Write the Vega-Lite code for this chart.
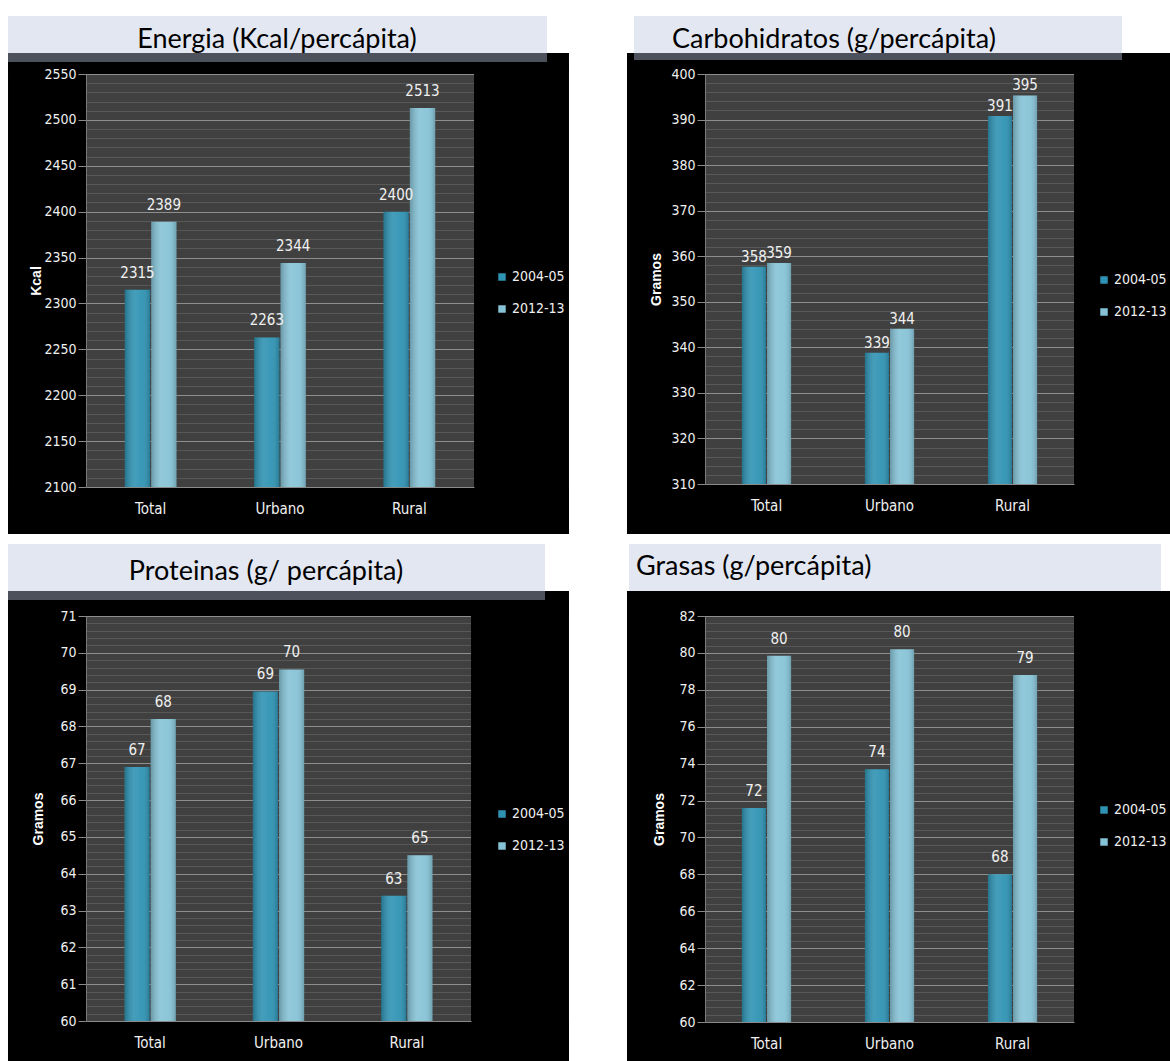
{
"$schema": "https://vega.github.io/schema/vega-lite/v6.json",
"background": "white",
"padding": {"left": 7, "top": 15, "right": 0, "bottom": 0},
"config": {"view": {"stroke": null}, "font": "DejaVu Sans Condensed, Liberation Sans Narrow, sans-serif"},
"columns": 2,
"align": "none",
"spacing": {"row": 8, "column": 56},
"resolve": {"scale": {"color": "independent", "x": "independent", "y": "independent", "xOffset": "independent"}, "legend": {"color": "independent"}},
"concat": [
{"width": 388, "height": 413, "view": {"fill": "#404040", "stroke": "#6e6e6e"},
 "data": {"values": [
  {"region": "Total", "year": "2004-05", "value": 2315, "label": "2315"},
  {"region": "Total", "year": "2012-13", "value": 2389, "label": "2389"},
  {"region": "Urbano", "year": "2004-05", "value": 2263, "label": "2263"},
  {"region": "Urbano", "year": "2012-13", "value": 2344, "label": "2344"},
  {"region": "Rural", "year": "2004-05", "value": 2400, "label": "2400"},
  {"region": "Rural", "year": "2012-13", "value": 2513, "label": "2513"}]},
 "resolve": {"scale": {"x": "independent", "y": "independent"}},
 "layer": [
  {"resolve": {"axis": {"y": "independent"}}, "layer": [
   {"mark": {"type": "bar", "clip": true},
    "encoding": {
     "x": {"field": "region", "type": "nominal", "sort": ["Total", "Urbano", "Rural"], "scale": {"paddingInner": 0.6, "paddingOuter": 0.3},
       "axis": {"title": null, "labelAngle": 0, "labelColor": "#f0f0f0", "labelFontSize": 15, "ticks": false, "labelPadding": 14, "domainColor": "#8a8a8a", "grid": false, "zindex": 1}},
     "xOffset": {"field": "year", "type": "nominal", "scale": {"paddingInner": 0.04}},
     "y": {"field": "value", "type": "quantitative", "scale": {"domain": [2100, 2550], "nice": false, "zero": false},
       "axis": {"orient": "left", "values": [2100, 2150, 2200, 2250, 2300, 2350, 2400, 2450, 2500, 2550], "format": "d", "grid": false, "domainColor": "#7a7a7a", "tickColor": "#8a8a8a", "tickSize": 8, "labelPadding": 2, "labelColor": "#f0f0f0", "labelFontSize": 14, "title": "Kcal", "titleColor": "#ffffff", "titleFont": "Liberation Sans", "titleFontSize": 14, "titleFontWeight": "bold", "titlePadding": 0, "zindex": 1}},
     "color": {"field": "year", "type": "nominal", "scale": {"range": ["#2f93b3", "#86c3d6"]},
       "legend": {"orient": "none", "legendX": 409, "legendY": 196, "title": null, "labelColor": "#f0f0f0", "labelFontSize": 14, "symbolType": "square", "symbolSize": 56, "symbolStrokeWidth": 0, "rowPadding": 18, "labelOffset": 3, "zindex": 1}}}},
   {"mark": {"type": "bar", "clip": true, "fill": {"gradient": "linear", "x1": 0, "x2": 1, "y1": 0, "y2": 0, "stops": [{"offset": 0, "color": "rgba(0,0,0,0.22)"}, {"offset": 0.4, "color": "rgba(255,255,255,0.10)"}, {"offset": 0.7, "color": "rgba(255,255,255,0.05)"}, {"offset": 1, "color": "rgba(0,0,0,0.18)"}]}},
    "encoding": {
     "x": {"field": "region", "type": "nominal", "sort": ["Total", "Urbano", "Rural"]},
     "xOffset": {"field": "year", "type": "nominal"},
     "y": {"field": "value", "type": "quantitative",
       "axis": {"orient": "right", "tickCount": 45, "grid": true, "gridColor": {"condition": {"test": "datum.value % 50 === 0", "value": "#8e8e8e"}, "value": "#585858"}, "labels": false, "ticks": false, "domain": false, "title": null, "zindex": 0}}}},
   {"mark": {"type": "text", "color": "#f0f0f0", "fontSize": 15, "baseline": "alphabetic", "dy": -12},
    "encoding": {
     "x": {"field": "region", "type": "nominal", "sort": ["Total", "Urbano", "Rural"]},
     "xOffset": {"field": "year", "type": "nominal"},
     "y": {"field": "value", "type": "quantitative", "axis": null},
     "text": {"field": "label"}}}
  ]},
  {"data": {"values": [{}]}, "mark": {"type": "rect", "color": "black"}, "encoding": {"x": {"datum": -0.201, "type": "quantitative", "scale": {"domain": [0, 1]}, "axis": null}, "x2": {"datum": 0}, "y": {"datum": -0.1138, "type": "quantitative", "scale": {"domain": [0, 1]}, "axis": null}, "y2": {"datum": 1.0291}}},
  {"data": {"values": [{}]}, "mark": {"type": "rect", "color": "black"}, "encoding": {"x": {"datum": 1, "type": "quantitative", "scale": {"domain": [0, 1]}, "axis": null}, "x2": {"datum": 1.2448}, "y": {"datum": -0.1138, "type": "quantitative", "scale": {"domain": [0, 1]}, "axis": null}, "y2": {"datum": 1.0508}}},
  {"data": {"values": [{}]}, "mark": {"type": "rect", "color": "black"}, "encoding": {"x": {"datum": -0.201, "type": "quantitative", "scale": {"domain": [0, 1]}, "axis": null}, "x2": {"datum": 1.2448}, "y": {"datum": 1, "type": "quantitative", "scale": {"domain": [0, 1]}, "axis": null}, "y2": {"datum": 1.0291}}},
  {"data": {"values": [{}]}, "mark": {"type": "rect", "color": "black"}, "encoding": {"x": {"datum": -0.201, "type": "quantitative", "scale": {"domain": [0, 1]}, "axis": null}, "x2": {"datum": 1.2448}, "y": {"datum": -0.1138, "type": "quantitative", "scale": {"domain": [0, 1]}, "axis": null}, "y2": {"datum": 0}}},
  {"data": {"values": [{}]}, "mark": {"type": "rect", "color": "#4c515b"}, "encoding": {"x": {"datum": -0.201, "type": "quantitative", "scale": {"domain": [0, 1]}, "axis": null}, "x2": {"datum": 1.1881}, "y": {"datum": 1.0291, "type": "quantitative", "scale": {"domain": [0, 1]}, "axis": null}, "y2": {"datum": 1.0508}}},
  {"data": {"values": [{}]}, "mark": {"type": "rect", "color": "#e3e7f1"}, "encoding": {"x": {"datum": -0.201, "type": "quantitative", "scale": {"domain": [0, 1]}, "axis": null}, "x2": {"datum": 1.1881}, "y": {"datum": 1.0508, "type": "quantitative", "scale": {"domain": [0, 1]}, "axis": null}, "y2": {"datum": 1.1404}}},
  {"data": {"values": [{}]}, "mark": {"type": "text", "font": "Lato", "fontSize": 27, "color": "#000000", "baseline": "alphabetic", "align": "center"},
   "encoding": {"text": {"datum": "Energia (Kcal/percápita)"}, "x": {"datum": 0.4923, "type": "quantitative", "scale": {"domain": [0, 1]}, "axis": null}, "y": {"datum": 1.063, "type": "quantitative", "scale": {"domain": [0, 1]}, "axis": null}}}
 ]},
{"width": 369, "height": 410, "view": {"fill": "#404040", "stroke": "#6e6e6e"},
 "data": {"values": [
  {"region": "Total", "year": "2004-05", "value": 357.7, "label": "358"},
  {"region": "Total", "year": "2012-13", "value": 358.5, "label": "359"},
  {"region": "Urbano", "year": "2004-05", "value": 338.8, "label": "339"},
  {"region": "Urbano", "year": "2012-13", "value": 344.1, "label": "344"},
  {"region": "Rural", "year": "2004-05", "value": 390.8, "label": "391"},
  {"region": "Rural", "year": "2012-13", "value": 395.3, "label": "395"}]},
 "resolve": {"scale": {"x": "independent", "y": "independent"}},
 "layer": [
  {"resolve": {"axis": {"y": "independent"}}, "layer": [
   {"mark": {"type": "bar", "clip": true},
    "encoding": {
     "x": {"field": "region", "type": "nominal", "sort": ["Total", "Urbano", "Rural"], "scale": {"paddingInner": 0.6, "paddingOuter": 0.3},
       "axis": {"title": null, "labelAngle": 0, "labelColor": "#f0f0f0", "labelFontSize": 15, "ticks": false, "labelPadding": 14, "domainColor": "#8a8a8a", "grid": false, "zindex": 1}},
     "xOffset": {"field": "year", "type": "nominal", "scale": {"paddingInner": 0.04}},
     "y": {"field": "value", "type": "quantitative", "scale": {"domain": [310, 400], "nice": false, "zero": false},
       "axis": {"orient": "left", "values": [310, 320, 330, 340, 350, 360, 370, 380, 390, 400], "format": "d", "grid": false, "domainColor": "#7a7a7a", "tickColor": "#8a8a8a", "tickSize": 8, "labelPadding": 2, "labelColor": "#f0f0f0", "labelFontSize": 14, "title": "Gramos", "titleColor": "#ffffff", "titleFont": "Liberation Sans", "titleFontSize": 14, "titleFontWeight": "bold", "titlePadding": 7, "zindex": 1}},
     "color": {"field": "year", "type": "nominal", "scale": {"range": ["#2f93b3", "#86c3d6"]},
       "legend": {"orient": "none", "legendX": 392, "legendY": 199, "title": null, "labelColor": "#f0f0f0", "labelFontSize": 14, "symbolType": "square", "symbolSize": 56, "symbolStrokeWidth": 0, "rowPadding": 18, "labelOffset": 3, "zindex": 1}}}},
   {"mark": {"type": "bar", "clip": true, "fill": {"gradient": "linear", "x1": 0, "x2": 1, "y1": 0, "y2": 0, "stops": [{"offset": 0, "color": "rgba(0,0,0,0.22)"}, {"offset": 0.4, "color": "rgba(255,255,255,0.10)"}, {"offset": 0.7, "color": "rgba(255,255,255,0.05)"}, {"offset": 1, "color": "rgba(0,0,0,0.18)"}]}},
    "encoding": {
     "x": {"field": "region", "type": "nominal", "sort": ["Total", "Urbano", "Rural"]},
     "xOffset": {"field": "year", "type": "nominal"},
     "y": {"field": "value", "type": "quantitative",
       "axis": {"orient": "right", "tickCount": 45, "grid": true, "gridColor": {"condition": {"test": "datum.value % 10 === 0", "value": "#8e8e8e"}, "value": "#585858"}, "labels": false, "ticks": false, "domain": false, "title": null, "zindex": 0}}}},
   {"mark": {"type": "text", "color": "#f0f0f0", "fontSize": 15, "baseline": "alphabetic", "dy": -5},
    "encoding": {
     "x": {"field": "region", "type": "nominal", "sort": ["Total", "Urbano", "Rural"]},
     "xOffset": {"field": "year", "type": "nominal"},
     "y": {"field": "value", "type": "quantitative", "axis": null},
     "text": {"field": "label"}}}
  ]},
  {"data": {"values": [{}]}, "mark": {"type": "rect", "color": "black"}, "encoding": {"x": {"datum": -0.2114, "type": "quantitative", "scale": {"domain": [0, 1]}, "axis": null}, "x2": {"datum": 0}, "y": {"datum": -0.122, "type": "quantitative", "scale": {"domain": [0, 1]}, "axis": null}, "y2": {"datum": 1.0512}}},
  {"data": {"values": [{}]}, "mark": {"type": "rect", "color": "black"}, "encoding": {"x": {"datum": 1, "type": "quantitative", "scale": {"domain": [0, 1]}, "axis": null}, "x2": {"datum": 1.2683}, "y": {"datum": -0.122, "type": "quantitative", "scale": {"domain": [0, 1]}, "axis": null}, "y2": {"datum": 1.0512}}},
  {"data": {"values": [{}]}, "mark": {"type": "rect", "color": "black"}, "encoding": {"x": {"datum": -0.2114, "type": "quantitative", "scale": {"domain": [0, 1]}, "axis": null}, "x2": {"datum": 1.2683}, "y": {"datum": 1, "type": "quantitative", "scale": {"domain": [0, 1]}, "axis": null}, "y2": {"datum": 1.0341}}},
  {"data": {"values": [{}]}, "mark": {"type": "rect", "color": "black"}, "encoding": {"x": {"datum": -0.2114, "type": "quantitative", "scale": {"domain": [0, 1]}, "axis": null}, "x2": {"datum": 1.2683}, "y": {"datum": -0.122, "type": "quantitative", "scale": {"domain": [0, 1]}, "axis": null}, "y2": {"datum": 0}}},
  {"data": {"values": [{}]}, "mark": {"type": "rect", "color": "#4c515b"}, "encoding": {"x": {"datum": -0.1924, "type": "quantitative", "scale": {"domain": [0, 1]}, "axis": null}, "x2": {"datum": 1.1301}, "y": {"datum": 1.0341, "type": "quantitative", "scale": {"domain": [0, 1]}, "axis": null}, "y2": {"datum": 1.0512}}},
  {"data": {"values": [{}]}, "mark": {"type": "rect", "color": "#e3e7f1"}, "encoding": {"x": {"datum": -0.1924, "type": "quantitative", "scale": {"domain": [0, 1]}, "axis": null}, "x2": {"datum": 1.1301}, "y": {"datum": 1.0512, "type": "quantitative", "scale": {"domain": [0, 1]}, "axis": null}, "y2": {"datum": 1.1415}}},
  {"data": {"values": [{}]}, "mark": {"type": "text", "font": "Lato", "fontSize": 27, "color": "#000000", "baseline": "alphabetic", "align": "left"},
   "encoding": {"text": {"datum": "Carbohidratos (g/percápita)"}, "x": {"datum": -0.0894, "type": "quantitative", "scale": {"domain": [0, 1]}, "axis": null}, "y": {"datum": 1.0634, "type": "quantitative", "scale": {"domain": [0, 1]}, "axis": null}}}
 ]},
{"width": 385, "height": 405, "view": {"fill": "#404040", "stroke": "#6e6e6e"},
 "data": {"values": [
  {"region": "Total", "year": "2004-05", "value": 66.9, "label": "67"},
  {"region": "Total", "year": "2012-13", "value": 68.2, "label": "68"},
  {"region": "Urbano", "year": "2004-05", "value": 68.95, "label": "69"},
  {"region": "Urbano", "year": "2012-13", "value": 69.55, "label": "70"},
  {"region": "Rural", "year": "2004-05", "value": 63.4, "label": "63"},
  {"region": "Rural", "year": "2012-13", "value": 64.5, "label": "65"}]},
 "resolve": {"scale": {"x": "independent", "y": "independent"}},
 "layer": [
  {"resolve": {"axis": {"y": "independent"}}, "layer": [
   {"mark": {"type": "bar", "clip": true},
    "encoding": {
     "x": {"field": "region", "type": "nominal", "sort": ["Total", "Urbano", "Rural"], "scale": {"paddingInner": 0.6, "paddingOuter": 0.3},
       "axis": {"title": null, "labelAngle": 0, "labelColor": "#f0f0f0", "labelFontSize": 15, "ticks": false, "labelPadding": 14, "domainColor": "#8a8a8a", "grid": false, "zindex": 1}},
     "xOffset": {"field": "year", "type": "nominal", "scale": {"paddingInner": 0.04}},
     "y": {"field": "value", "type": "quantitative", "scale": {"domain": [60, 71], "nice": false, "zero": false},
       "axis": {"orient": "left", "values": [60, 61, 62, 63, 64, 65, 66, 67, 68, 69, 70, 71], "format": "d", "grid": false, "domainColor": "#7a7a7a", "tickColor": "#8a8a8a", "tickSize": 8, "labelPadding": 2, "labelColor": "#f0f0f0", "labelFontSize": 14, "title": "Gramos", "titleColor": "#ffffff", "titleFont": "Liberation Sans", "titleFontSize": 14, "titleFontWeight": "bold", "titlePadding": 14, "zindex": 1}},
     "color": {"field": "year", "type": "nominal", "scale": {"range": ["#2f93b3", "#86c3d6"]},
       "legend": {"orient": "none", "legendX": 409, "legendY": 191, "title": null, "labelColor": "#f0f0f0", "labelFontSize": 14, "symbolType": "square", "symbolSize": 56, "symbolStrokeWidth": 0, "rowPadding": 18, "labelOffset": 3, "zindex": 1}}}},
   {"mark": {"type": "bar", "clip": true, "fill": {"gradient": "linear", "x1": 0, "x2": 1, "y1": 0, "y2": 0, "stops": [{"offset": 0, "color": "rgba(0,0,0,0.22)"}, {"offset": 0.4, "color": "rgba(255,255,255,0.10)"}, {"offset": 0.7, "color": "rgba(255,255,255,0.05)"}, {"offset": 1, "color": "rgba(0,0,0,0.18)"}]}},
    "encoding": {
     "x": {"field": "region", "type": "nominal", "sort": ["Total", "Urbano", "Rural"]},
     "xOffset": {"field": "year", "type": "nominal"},
     "y": {"field": "value", "type": "quantitative",
       "axis": {"orient": "right", "tickCount": 55, "grid": true, "gridColor": {"condition": {"test": "abs(datum.value - round(datum.value)) < 0.001", "value": "#8e8e8e"}, "value": "#585858"}, "labels": false, "ticks": false, "domain": false, "title": null, "zindex": 0}}}},
   {"mark": {"type": "text", "color": "#f0f0f0", "fontSize": 15, "baseline": "alphabetic", "dy": -12},
    "encoding": {
     "x": {"field": "region", "type": "nominal", "sort": ["Total", "Urbano", "Rural"]},
     "xOffset": {"field": "year", "type": "nominal"},
     "y": {"field": "value", "type": "quantitative", "axis": null},
     "text": {"field": "label"}}}
  ]},
  {"data": {"values": [{}]}, "mark": {"type": "rect", "color": "black"}, "encoding": {"x": {"datum": -0.2026, "type": "quantitative", "scale": {"domain": [0, 1]}, "axis": null}, "x2": {"datum": 0}, "y": {"datum": -0.1062, "type": "quantitative", "scale": {"domain": [0, 1]}, "axis": null}, "y2": {"datum": 1.0395}}},
  {"data": {"values": [{}]}, "mark": {"type": "rect", "color": "black"}, "encoding": {"x": {"datum": 1, "type": "quantitative", "scale": {"domain": [0, 1]}, "axis": null}, "x2": {"datum": 1.2545}, "y": {"datum": -0.1062, "type": "quantitative", "scale": {"domain": [0, 1]}, "axis": null}, "y2": {"datum": 1.0617}}},
  {"data": {"values": [{}]}, "mark": {"type": "rect", "color": "black"}, "encoding": {"x": {"datum": -0.2026, "type": "quantitative", "scale": {"domain": [0, 1]}, "axis": null}, "x2": {"datum": 1.2545}, "y": {"datum": 1, "type": "quantitative", "scale": {"domain": [0, 1]}, "axis": null}, "y2": {"datum": 1.0395}}},
  {"data": {"values": [{}]}, "mark": {"type": "rect", "color": "black"}, "encoding": {"x": {"datum": -0.2026, "type": "quantitative", "scale": {"domain": [0, 1]}, "axis": null}, "x2": {"datum": 1.2545}, "y": {"datum": -0.1062, "type": "quantitative", "scale": {"domain": [0, 1]}, "axis": null}, "y2": {"datum": 0}}},
  {"data": {"values": [{}]}, "mark": {"type": "rect", "color": "#4c515b"}, "encoding": {"x": {"datum": -0.2026, "type": "quantitative", "scale": {"domain": [0, 1]}, "axis": null}, "x2": {"datum": 1.1922}, "y": {"datum": 1.0395, "type": "quantitative", "scale": {"domain": [0, 1]}, "axis": null}, "y2": {"datum": 1.0617}}},
  {"data": {"values": [{}]}, "mark": {"type": "rect", "color": "#e3e7f1"}, "encoding": {"x": {"datum": -0.2026, "type": "quantitative", "scale": {"domain": [0, 1]}, "axis": null}, "x2": {"datum": 1.1922}, "y": {"datum": 1.0617, "type": "quantitative", "scale": {"domain": [0, 1]}, "axis": null}, "y2": {"datum": 1.1778}}},
  {"data": {"values": [{}]}, "mark": {"type": "text", "font": "Lato", "fontSize": 27, "color": "#000000", "baseline": "alphabetic", "align": "center"},
   "encoding": {"text": {"datum": "Proteinas (g/ percápita)"}, "x": {"datum": 0.4675, "type": "quantitative", "scale": {"domain": [0, 1]}, "axis": null}, "y": {"datum": 1.0889, "type": "quantitative", "scale": {"domain": [0, 1]}, "axis": null}}}
 ]},
{"width": 369, "height": 406, "view": {"fill": "#404040", "stroke": "#6e6e6e"},
 "data": {"values": [
  {"region": "Total", "year": "2004-05", "value": 71.6, "label": "72"},
  {"region": "Total", "year": "2012-13", "value": 79.85, "label": "80"},
  {"region": "Urbano", "year": "2004-05", "value": 73.7, "label": "74"},
  {"region": "Urbano", "year": "2012-13", "value": 80.2, "label": "80"},
  {"region": "Rural", "year": "2004-05", "value": 68.0, "label": "68"},
  {"region": "Rural", "year": "2012-13", "value": 78.8, "label": "79"}]},
 "resolve": {"scale": {"x": "independent", "y": "independent"}},
 "layer": [
  {"resolve": {"axis": {"y": "independent"}}, "layer": [
   {"mark": {"type": "bar", "clip": true},
    "encoding": {
     "x": {"field": "region", "type": "nominal", "sort": ["Total", "Urbano", "Rural"], "scale": {"paddingInner": 0.6, "paddingOuter": 0.3},
       "axis": {"title": null, "labelAngle": 0, "labelColor": "#f0f0f0", "labelFontSize": 15, "ticks": false, "labelPadding": 14, "domainColor": "#8a8a8a", "grid": false, "zindex": 1}},
     "xOffset": {"field": "year", "type": "nominal", "scale": {"paddingInner": 0.04}},
     "y": {"field": "value", "type": "quantitative", "scale": {"domain": [60, 82], "nice": false, "zero": false},
       "axis": {"orient": "left", "values": [60, 62, 64, 66, 68, 70, 72, 74, 76, 78, 80, 82], "format": "d", "grid": false, "domainColor": "#7a7a7a", "tickColor": "#8a8a8a", "tickSize": 8, "labelPadding": 2, "labelColor": "#f0f0f0", "labelFontSize": 14, "title": "Gramos", "titleColor": "#ffffff", "titleFont": "Liberation Sans", "titleFontSize": 14, "titleFontWeight": "bold", "titlePadding": 12, "zindex": 1}},
     "color": {"field": "year", "type": "nominal", "scale": {"range": ["#2f93b3", "#86c3d6"]},
       "legend": {"orient": "none", "legendX": 392, "legendY": 187, "title": null, "labelColor": "#f0f0f0", "labelFontSize": 14, "symbolType": "square", "symbolSize": 56, "symbolStrokeWidth": 0, "rowPadding": 18, "labelOffset": 3, "zindex": 1}}}},
   {"mark": {"type": "bar", "clip": true, "fill": {"gradient": "linear", "x1": 0, "x2": 1, "y1": 0, "y2": 0, "stops": [{"offset": 0, "color": "rgba(0,0,0,0.22)"}, {"offset": 0.4, "color": "rgba(255,255,255,0.10)"}, {"offset": 0.7, "color": "rgba(255,255,255,0.05)"}, {"offset": 1, "color": "rgba(0,0,0,0.18)"}]}},
    "encoding": {
     "x": {"field": "region", "type": "nominal", "sort": ["Total", "Urbano", "Rural"]},
     "xOffset": {"field": "year", "type": "nominal"},
     "y": {"field": "value", "type": "quantitative",
       "axis": {"orient": "right", "values": [60, 60.4, 60.8, 61.2, 61.6, 62, 62.4, 62.8, 63.2, 63.6, 64, 64.4, 64.8, 65.2, 65.6, 66, 66.4, 66.8, 67.2, 67.6, 68, 68.4, 68.8, 69.2, 69.6, 70, 70.4, 70.8, 71.2, 71.6, 72, 72.4, 72.8, 73.2, 73.6, 74, 74.4, 74.8, 75.2, 75.6, 76, 76.4, 76.8, 77.2, 77.6, 78, 78.4, 78.8, 79.2, 79.6, 80, 80.4, 80.8, 81.2, 81.6, 82], "grid": true, "gridColor": {"condition": {"test": "abs(datum.value / 2 - round(datum.value / 2)) < 0.001", "value": "#8e8e8e"}, "value": "#585858"}, "labels": false, "ticks": false, "domain": false, "title": null, "zindex": 0}}}},
   {"mark": {"type": "text", "color": "#f0f0f0", "fontSize": 15, "baseline": "alphabetic", "dy": -12},
    "encoding": {
     "x": {"field": "region", "type": "nominal", "sort": ["Total", "Urbano", "Rural"]},
     "xOffset": {"field": "year", "type": "nominal"},
     "y": {"field": "value", "type": "quantitative", "axis": null},
     "text": {"field": "label"}}}
  ]},
  {"data": {"values": [{}]}, "mark": {"type": "rect", "color": "black"}, "encoding": {"x": {"datum": -0.2114, "type": "quantitative", "scale": {"domain": [0, 1]}, "axis": null}, "x2": {"datum": 0}, "y": {"datum": -0.1034, "type": "quantitative", "scale": {"domain": [0, 1]}, "axis": null}, "y2": {"datum": 1.0616}}},
  {"data": {"values": [{}]}, "mark": {"type": "rect", "color": "black"}, "encoding": {"x": {"datum": 1, "type": "quantitative", "scale": {"domain": [0, 1]}, "axis": null}, "x2": {"datum": 1.2683}, "y": {"datum": -0.1034, "type": "quantitative", "scale": {"domain": [0, 1]}, "axis": null}, "y2": {"datum": 1.0616}}},
  {"data": {"values": [{}]}, "mark": {"type": "rect", "color": "black"}, "encoding": {"x": {"datum": -0.2114, "type": "quantitative", "scale": {"domain": [0, 1]}, "axis": null}, "x2": {"datum": 1.2683}, "y": {"datum": 1, "type": "quantitative", "scale": {"domain": [0, 1]}, "axis": null}, "y2": {"datum": 1.0616}}},
  {"data": {"values": [{}]}, "mark": {"type": "rect", "color": "black"}, "encoding": {"x": {"datum": -0.2114, "type": "quantitative", "scale": {"domain": [0, 1]}, "axis": null}, "x2": {"datum": 1.2683}, "y": {"datum": -0.1034, "type": "quantitative", "scale": {"domain": [0, 1]}, "axis": null}, "y2": {"datum": 0}}},
  {"data": {"values": [{}]}, "mark": {"type": "rect", "color": "#e3e7f1"}, "encoding": {"x": {"datum": -0.206, "type": "quantitative", "scale": {"domain": [0, 1]}, "axis": null}, "x2": {"datum": 1.2358}, "y": {"datum": 1.0616, "type": "quantitative", "scale": {"domain": [0, 1]}, "axis": null}, "y2": {"datum": 1.1773}}},
  {"data": {"values": [{}]}, "mark": {"type": "text", "font": "Lato", "fontSize": 27, "color": "#000000", "baseline": "alphabetic", "align": "left"},
   "encoding": {"text": {"datum": "Grasas (g/percápita)"}, "x": {"datum": -0.187, "type": "quantitative", "scale": {"domain": [0, 1]}, "axis": null}, "y": {"datum": 1.101, "type": "quantitative", "scale": {"domain": [0, 1]}, "axis": null}}}
 ]}
]
}
